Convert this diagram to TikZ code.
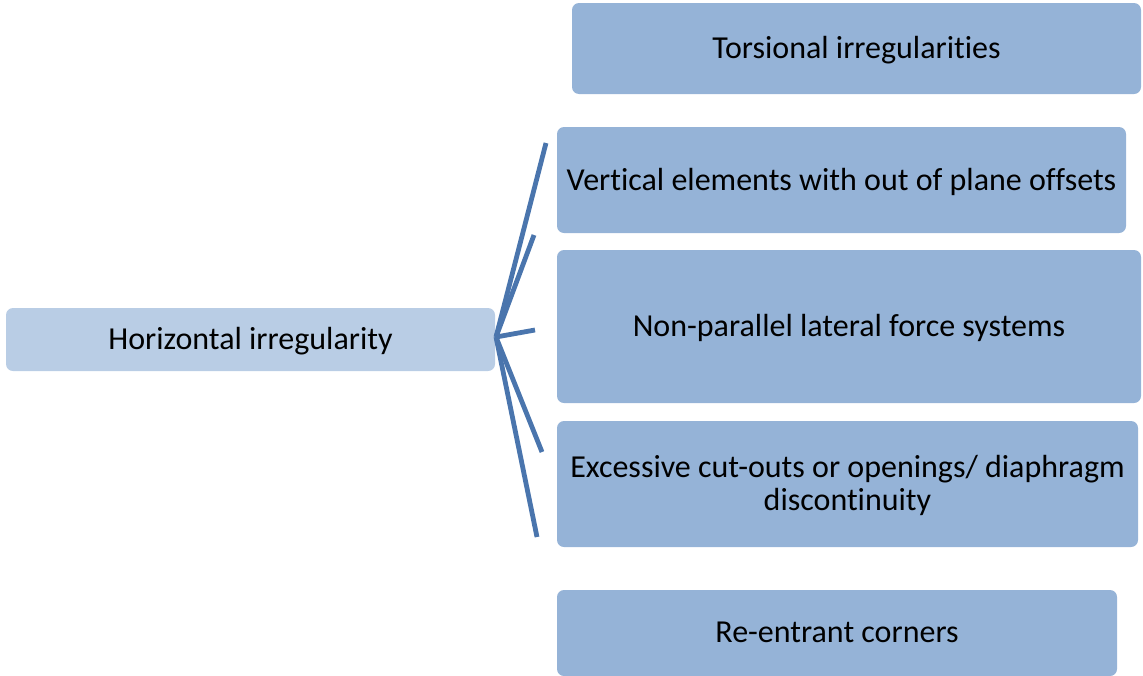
\documentclass[tikz,border=0pt]{standalone}
\usepackage{fontspec}
\setmainfont{Carlito}[Ligatures=NoCommon]
\definecolor{rootfill}{HTML}{B9CDE5}
\definecolor{childfill}{HTML}{95B3D7}
\definecolor{linkcol}{HTML}{4A75AD}
\begin{document}
\begin{tikzpicture}[x=1pt,y=-1pt,
  box/.style={rectangle, rounded corners=7pt, draw=none, inner sep=0pt, align=center,
    font=\fontsize{32}{33}\selectfont, text=black, text depth=2pt},
  rootbox/.style={box, fill=rootfill},
  childbox/.style={box, fill=childfill},
  link/.style={draw=linkcol, line width=4.8pt}]
\useasboundingbox (0,0) rectangle (1143,675);
\clip (0,0) rectangle (1143,675);
\node[rootbox, minimum width=489pt, minimum height=63pt] (root) at (250.5,339.5) {Horizontal irregularity};
\node[childbox, minimum width=569pt, minimum height=91pt] (tors) at (856.5,48.5) {Torsional irregularities};
\node[childbox, minimum width=569pt, minimum height=106pt] (vert) at (841.5,180) {Vertical elements with out of plane offsets};
\node[childbox, minimum width=584pt, minimum height=153pt] (nonp) at (849,326.5) {Non-parallel lateral force systems};
\node[childbox, minimum width=581pt, minimum height=126pt] (exc) at (847.5,484) {Excessive cut-outs or openings/ diaphragm\\discontinuity};
\node[childbox, minimum width=560pt, minimum height=86pt] (reen) at (837,633) {Re-entrant corners};
\coordinate (o) at (496,337);
\coordinate (e1) at (546,143);
\coordinate (e2) at (534,235);
\coordinate (e3) at (535,330);
\coordinate (e4) at (542,452);
\coordinate (e5) at (537,537);
\draw[link] (o) -- (e1);
\draw[link] (o) -- (e2);
\draw[link] (o) -- (e3);
\draw[link] (o) -- (e4);
\draw[link] (o) -- (e5);
\end{tikzpicture}
\end{document}
